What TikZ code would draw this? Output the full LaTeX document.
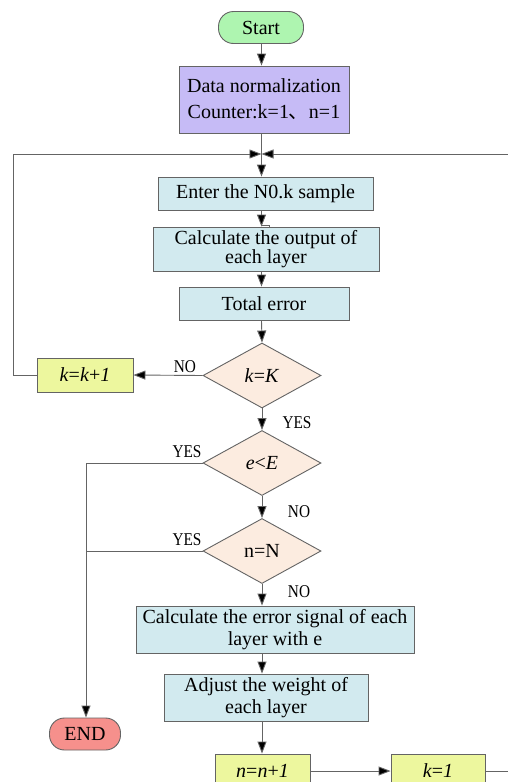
\documentclass[tikz,border=0pt]{standalone}
\usepackage{fontspec}
\setmainfont{Liberation Serif}
\newfontfamily\cjkfont{Noto Sans CJK SC}
\newfontfamily\lblfont[FakeStretch=0.85]{Liberation Serif}
\usetikzlibrary{shapes.geometric,arrows.meta}
\definecolor{startc}{HTML}{AEF5B0}
\definecolor{datac}{HTML}{C6BBF6}
\definecolor{procc}{HTML}{D2EAEF}
\definecolor{decc}{HTML}{FCECE0}
\definecolor{cntc}{HTML}{EDF79E}
\definecolor{endc}{HTML}{F6908C}
\definecolor{linec}{HTML}{646464}
\tikzset{
  base/.style={draw=linec, line width=0.9pt, inner sep=0pt, align=center,
    font=\fontsize{20}{22}\selectfont},
  term/.style={base, rounded corners=15pt},
  procbox/.style={base, fill=procc},
  cntbox/.style={base, fill=cntc},
  decbox/.style={base, diamond, fill=decc, minimum width=118pt, minimum height=65pt},
  conn/.style={draw=linec, line width=0.9pt},
  arr/.style={conn, -{Triangle[length=12pt,width=9pt,fill=black]}},
  lbl/.style={font=\lblfont\fontsize{18}{18}\selectfont, inner sep=0pt}
}
\begin{document}
\begin{tikzpicture}[x=1pt,y=-1pt]
\clip (0,0) rectangle (508,782);
\fill[white] (0,0) rectangle (508,782);

% blocks
\node[term, fill=startc, minimum width=85pt, minimum height=32pt] (start) at (261,27.5) {Start};
\node[base, fill=datac, minimum width=170pt, minimum height=67pt,
      font=\fontsize{20}{26}\selectfont] (data) at (264,99.5)
      {Data normalization\\Counter:k=1{\cjkfont 、}n=1};
\node[procbox, minimum width=215pt, minimum height=33pt] (enter) at (265.5,193.5) {Enter the N0.k sample};
\node[procbox, minimum width=226pt, minimum height=44pt,
      font=\fontsize{20}{18.5}\selectfont] (calc) at (266,249) {Calculate the output of\\each layer};
\node[procbox, minimum width=170pt, minimum height=33pt] (total) at (264,303.5) {Total error};
\node[decbox] (kK) at (262,375.5) {\textit{k}=\textit{K}};
\node[cntbox, minimum width=96pt, minimum height=34pt] (kk1) at (85,375) {\textit{k}=\textit{k}+\textit{1}};
\node[decbox] (eE) at (262,463) {\textit{e}<\textit{E}};
\node[decbox] (nN) at (262,551) {n=N};
\node[procbox, minimum width=278pt, minimum height=47pt] (err) at (275,629.5) {Calculate the error signal of each\\layer with e};
\node[procbox, minimum width=204pt, minimum height=47pt] (adj) at (266,697.5) {Adjust the weight of\\each layer};
\node[cntbox, minimum width=95pt, minimum height=34pt] (nn1) at (262.5,771) {\textit{n}=\textit{n}+\textit{1}};
\node[cntbox, minimum width=94pt, minimum height=34pt] (k1) at (438,771) {\textit{k}=\textit{1}};
\node[term, fill=endc, minimum width=71pt, minimum height=32pt] (end) at (85,734) {END};

% junction where both loops return
\coordinate (m) at (261.5,154);
\coordinate (trunk) at (86,463);

% main flow
\draw[arr] (start.south -| m) -- (m |- data.north);
\draw[arr] (m |- data.south) -- (m |- enter.north);
\draw[arr] (m |- enter.south) -- (m |- calc.north);
\draw[conn, line width=0.7pt] ([yshift=1pt]m |- calc.north) -- ++(8,0) -- ++(0,1.5);
\draw[arr] (m |- calc.south) -- (m |- total.north);
\draw[arr] (m |- total.south) -- (kK.north);
\draw[arr] (kK.south) -- (eE.north);
\draw[arr] (eE.south) -- (nN.north);
\draw[arr] (nN.south) -- (nN.south |- err.north);
\draw[arr] (nN.south |- err.south) -- (nN.south |- adj.north);
\draw[arr] (nN.south |- adj.south) -- (nN.south |- nn1.north);
\draw[arr] (nn1.east) -- (k1.west);

% loops back to the sample input
\draw[arr] (kk1.west) -- ++(-23,0) |- (m);
\draw[arr] (k1.east) -- ++(40,0) |- (m);

% branches
\draw[arr] (kK.west) -- (kk1.east);
\draw[arr] (eE.west) -- (trunk) -- (end.north -| trunk);
\draw[conn] (nN.west) -- (nN.west -| trunk);

% branch labels
\node[lbl] (noA) at (185,367) {NO};
\node[lbl] (yesA) at (297,423) {YES};
\node[lbl] (yesB) at (187,452) {YES};
\node[lbl] (noB) at (299,512) {NO};
\node[lbl] (yesC) at (187,540) {YES};
\node[lbl] (noC) at (299,592) {NO};
\end{tikzpicture}
\end{document}
